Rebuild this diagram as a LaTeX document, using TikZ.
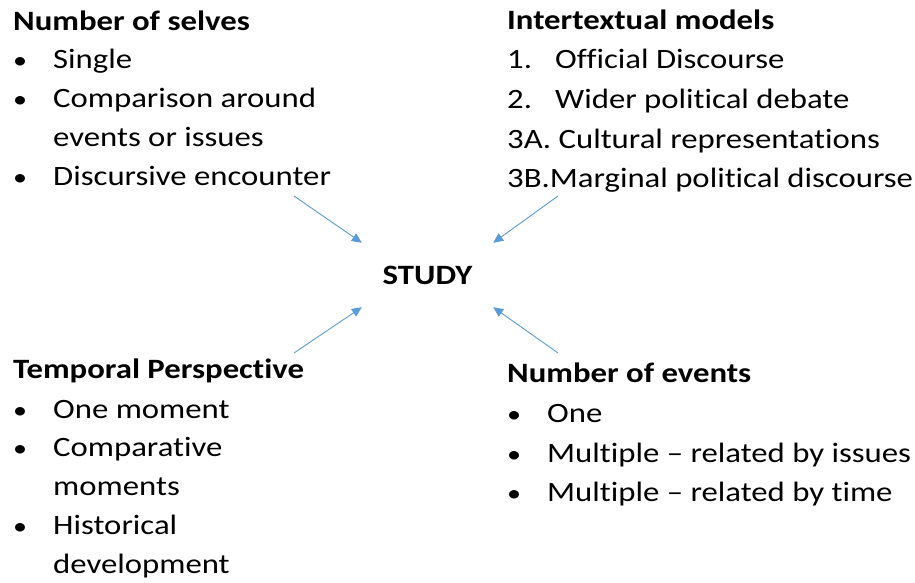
\documentclass[tikz,border=0pt]{standalone}
\usepackage{fontspec}
\setmainfont{Carlito}[FakeStretch=1.17, Ligatures=NoCommon]
\usetikzlibrary{arrows.meta}
\definecolor{arrowblue}{RGB}{91,155,213}
\newcommand{\bul}{\makebox[40pt][l]{\fontsize{24}{30}\selectfont •}}
\newcommand{\num}[1]{\makebox[48pt][l]{#1}}

\begin{document}
\begin{tikzpicture}[
	x=1pt, y=-1pt,
	txt/.style={ anchor=base west, inner sep=0pt, font=\fontsize{28}{34}\selectfont },
	head/.style={ txt, font=\fontsize{28}{34}\selectfont\bfseries },
	link/.style={ arrowblue, line width=0.9pt, -{Triangle[length=10pt,width=9pt]} }
]
\useasboundingbox (0,0) rectangle (915,582);

\node at (427.5,275) (study) [minimum width=131pt, minimum height=64pt, inner sep=0pt, font=\fontsize{28}{34}\selectfont\bfseries] {STUDY};

\node at (13,30) (selves) [head] {Number of selves};
\node at (13,68) (s1) [txt] {\bul Single};
\node at (13,107) (s2) [txt] {\bul Comparison around};
\node at (13,146) (s2b) [txt] {\hspace{40pt}events or issues};
\node at (13,185) (s3) [txt] {\bul Discursive encounter};

\node at (507,29) (models) [head] {Intertextual models};
\node at (507,68) (m1) [txt] {\num{1.}Official Discourse};
\node at (507,108) (m2) [txt] {\num{2.}Wider political debate};
\node at (507,148) (m3a) [txt] {3A. Cultural representations};
\node at (507,187) (m3b) [txt] {3B.Marginal political discourse};

\node at (13,378) (temporal) [head] {Temporal Perspective};
\node at (13,418) (t1) [txt] {\bul One moment};
\node at (13,456) (t2) [txt] {\bul Comparative};
\node at (13,495) (t2b) [txt] {\hspace{40pt}moments};
\node at (13,534) (t3) [txt] {\bul Historical};
\node at (13,573) (t3b) [txt] {\hspace{40pt}development};

\node at (507,382) (events) [head] {Number of events};
\node at (507,422) (e1) [txt] {\bul One};
\node at (507,462) (e2) [txt] {\bul Multiple -- related by issues};
\node at (507,501) (e3) [txt] {\bul Multiple -- related by time};

\coordinate (a1) at (294,196);
\coordinate (a2) at (558,196);
\coordinate (a3) at (294,353);
\coordinate (a4) at (558,353);
\draw[link] (a1) to (study.north west);
\draw[link] (a2) to (study.north east);
\draw[link] (a3) to (study.south west);
\draw[link] (a4) to (study.south east);

\end{tikzpicture}
\end{document}
